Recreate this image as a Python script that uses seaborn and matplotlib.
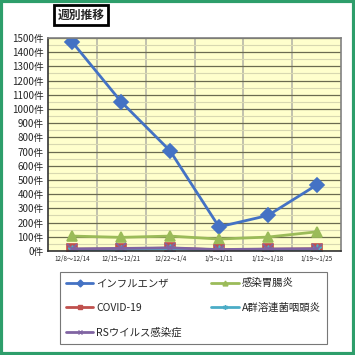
import numpy as np
import pandas as pd
import matplotlib
matplotlib.use("Agg")
import matplotlib.pyplot as plt
import seaborn as sns
from matplotlib.lines import Line2D
from matplotlib.patches import Rectangle

# 週ごとの件数
weeks = ["12/8～12/14", "12/15～12/21", "12/22～1/4", "1/5～1/11", "1/12～1/18", "1/19～1/25"]
influenza = [1470, 1050, 705, 170, 250, 465]
gastro = [105, 96, 105, 84, 98, 135]
covid = [12, 15, 20, 8, 12, 15]
strep = [8, 10, 15, 5, 8, 12]
rsv = [15, 18, 22, 10, 14, 16]

names = ["インフルエンザ", "感染胃腸炎", "COVID-19", "A群溶連菌咽頭炎", "RSウイルス感染症"]
colors = ["#4472C4", "#9BBB59", "#C0504D", "#4BACC6", "#8064A2"]
markers = ["D", "^", "s", (6, 2, 0), "x"]
series = [influenza, gastro, covid, strep, rsv]

sns.set_style("white")
plt.rcParams["font.family"] = ["Noto Sans CJK JP", "DejaVu Sans"]

fig = plt.figure(figsize=(3.55, 3.55), dpi=100)
ax = fig.add_axes([0.135, 0.293, 0.826, 0.600])
ax.set_facecolor("#FFFFCC")

x = np.arange(len(weeks))
handles = {}
for name, vals, c, m in zip(names, series, colors, markers):
    df = pd.DataFrame({"x": x, "y": vals})
    sns.lineplot(data=df, x="x", y="y", ax=ax, color=c, marker=m, markersize=7,
                 markeredgecolor=c, markeredgewidth=1.2, linewidth=2, legend=False)
    handles[name] = Line2D([], [], color=c, marker=m, markersize=3.5, markeredgecolor=c,
                           markeredgewidth=1, linewidth=2)

order = ["インフルエンザ", "COVID-19", "RSウイルス感染症", "感染胃腸炎", "A群溶連菌咽頭炎"]
leg = fig.legend([handles[k] for k in order], order, loc="upper left",
                 bbox_to_anchor=(0.169, 0.028, 0.752, 0.206), mode="expand",
                 ncol=2, fontsize=7.5, frameon=True, fancybox=False,
                 edgecolor="#555555", handlelength=2.6, handletextpad=0.3,
                 labelspacing=1.4, borderpad=0.6, columnspacing=1.0,
                 borderaxespad=0)
leg.get_frame().set_linewidth(0.8)

ax.set_xlim(-0.5, len(weeks) - 0.5)
ax.set_ylim(0, 1500)
ax.set_yticks(np.arange(0, 1501, 100))
ax.set_yticklabels([f"{v}件" for v in range(0, 1501, 100)], fontsize=7)
ax.set_yticks(np.arange(50, 1500, 100), minor=True)
ax.set_xticks(x)
ax.set_xticklabels(weeks, fontsize=4.5)
ax.set_xticks(np.arange(0.5, len(weeks) - 0.5, 1), minor=True)
ax.tick_params(axis="both", which="both", length=0, pad=3)
ax.grid(True, axis="y", which="major", color="#6b6b50", linewidth=0.9)
ax.grid(True, axis="y", which="minor", color="#d8d8b0", linewidth=0.8)
ax.grid(True, axis="x", which="minor", color="#b8b8a8", linewidth=1.2)
ax.set_axisbelow(True)
ax.set_xlabel("")
ax.set_ylabel("")
for s in ax.spines.values():
    s.set_color("#808080")
    s.set_linewidth(1.2)
ax.spines["left"].set_color("#333333")
ax.spines["bottom"].set_color("#333333")

fig.text(0.228, 0.958, "週別推移", fontsize=8.5, fontweight="bold", ha="center", va="center",
         bbox=dict(boxstyle="square,pad=0.3", facecolor="white", edgecolor="black", linewidth=2))

fig.patches.append(Rectangle((0.004, 0.004), 0.992, 0.992, transform=fig.transFigure,
                             fill=False, edgecolor="#2E9E6B", linewidth=3))

fig.savefig("out.png", dpi=100)
